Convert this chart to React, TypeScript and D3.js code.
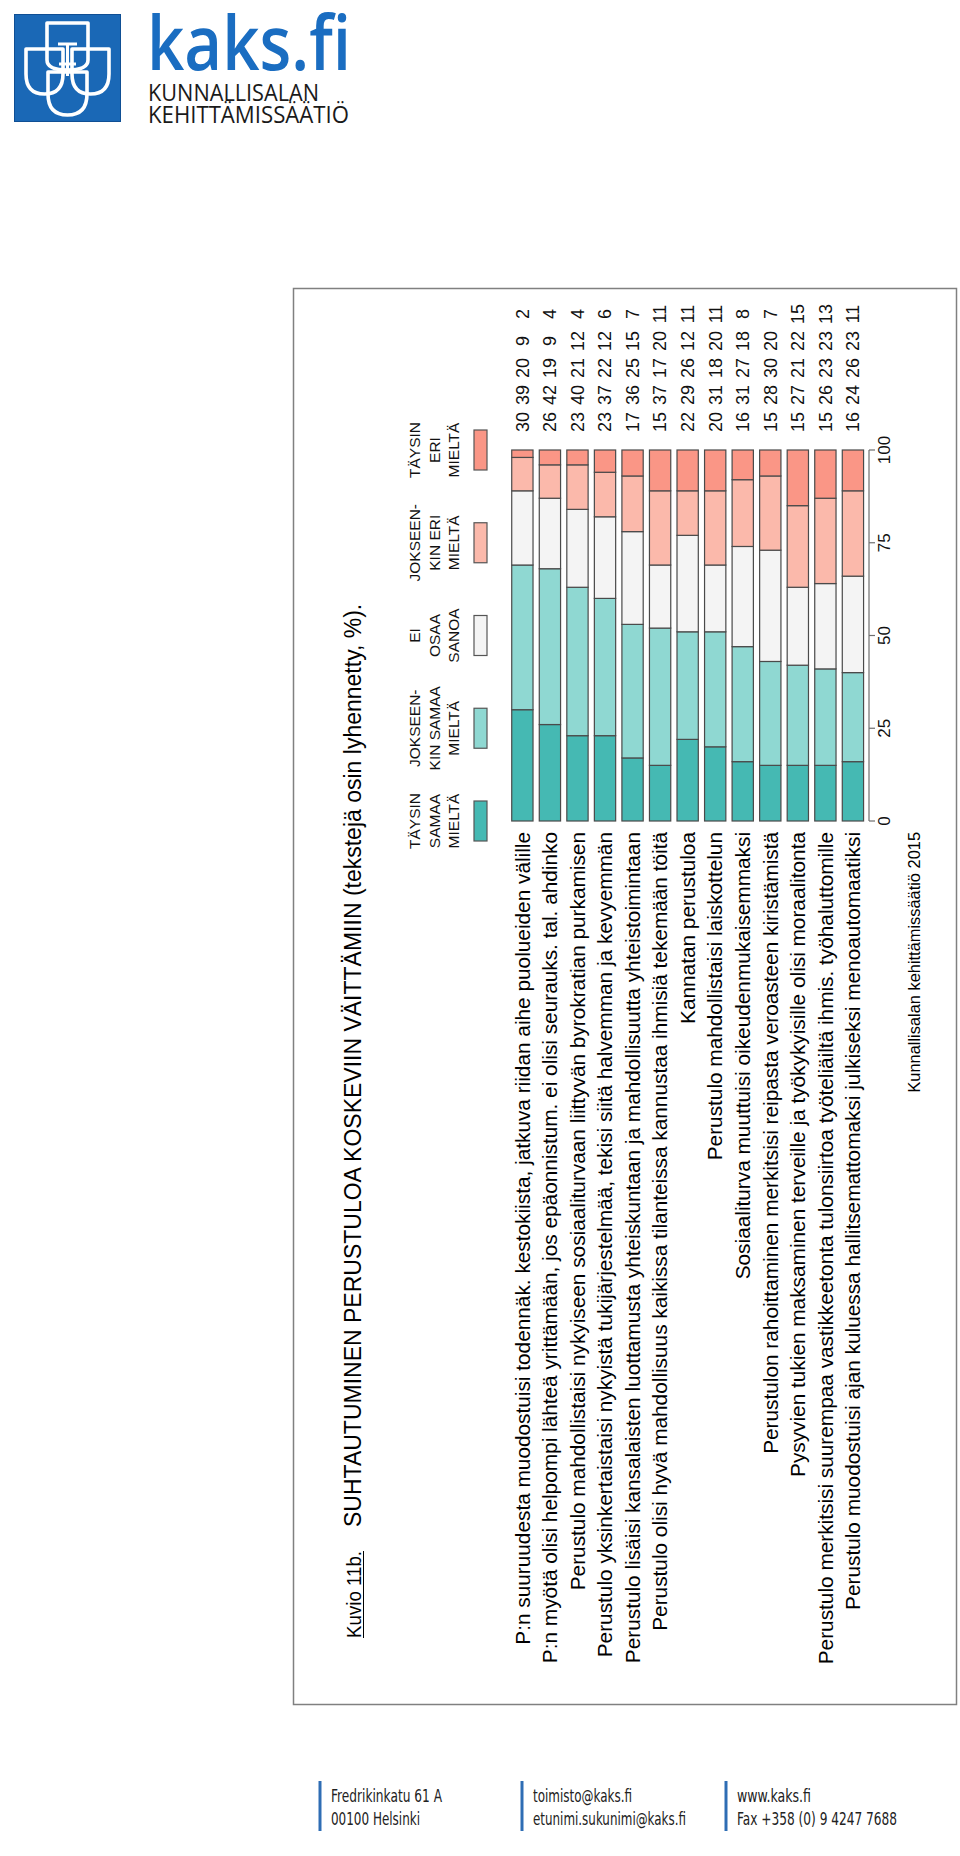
import React from 'react';
import * as d3 from 'd3';

const categories = [
  'P:n suuruudesta muodostuisi todennäk. kestokiista, jatkuva riidan aihe puolueiden välille',
  'P:n myötä olisi helpompi lähteä yrittämään, jos epäonnistum. ei olisi seurauks. tal. ahdinko',
  'Perustulo mahdollistaisi nykyiseen sosiaaliturvaan liittyvän byrokratian purkamisen',
  'Perustulo yksinkertaistaisi nykyistä tukijärjestelmää, tekisi siitä halvemman ja kevyemmän',
  'Perustulo lisäisi kansalaisten luottamusta yhteiskuntaan ja mahdollisuutta yhteistoimintaan',
  'Perustulo olisi hyvä mahdollisuus kaikissa tilanteissa kannustaa ihmisiä tekemään töitä',
  'Kannatan perustuloa',
  'Perustulo mahdollistaisi laiskottelun',
  'Sosiaaliturva muuttuisi oikeudenmukaisemmaksi',
  'Perustulon rahoittaminen merkitsisi reipasta veroasteen kiristämistä',
  'Pysyvien tukien maksaminen terveille ja työkykyisille olisi moraalitonta',
  'Perustulo merkitsisi suurempaa vastikkeetonta tulonsiirtoa työteliäiltä ihmis. työhaluttomille',
  'Perustulo muodostuisi ajan kuluessa hallitsemattomaksi julkiseksi menoautomaatiksi',
];

const seriesKeys = ['taysinSamaa', 'jokseenkinSamaa', 'eiOsaa', 'jokseenkinEri', 'taysinEri'];
const legendLines = [
  ['TÄYSIN', 'SAMAA', 'MIELTÄ'],
  ['JOKSEEN-', 'KIN SAMAA', 'MIELTÄ'],
  ['EI', 'OSAA', 'SANOA'],
  ['JOKSEEN-', 'KIN ERI', 'MIELTÄ'],
  ['TÄYSIN', 'ERI', 'MIELTÄ'],
];

const taysinSamaa = [30, 26, 23, 23, 17, 15, 22, 20, 16, 15, 15, 15, 16];
const jokseenkinSamaa = [39, 42, 40, 37, 36, 37, 29, 31, 31, 28, 27, 26, 24];
const eiOsaa = [20, 19, 21, 22, 25, 17, 26, 18, 27, 30, 21, 23, 26];
const jokseenkinEri = [9, 9, 12, 12, 15, 20, 12, 20, 18, 20, 22, 23, 23];
const taysinEri = [2, 4, 4, 6, 7, 11, 11, 11, 8, 7, 15, 13, 11];

const tickValues = [0, 25, 50, 75, 100];
const colors = ['#45b9b3', '#8fd8d2', '#f4f4f4', '#fbb9ab', '#fa9686'];

const titleLabel = 'Kuvio 11b.';
const titleText = 'SUHTAUTUMINEN PERUSTULOA KOSKEVIIN VÄITTÄMIIN (tekstejä osin lyhennetty, %).';
const creditText = 'Kunnallisalan kehittämissäätiö 2015';
const footerBlocks = [
  ['Fredrikinkatu 61 A', '00100 Helsinki'],
  ['toimisto@kaks.fi', 'etunimi.sukunimi@kaks.fi'],
  ['www.kaks.fi', 'Fax +358 (0) 9 4247 7688'],
];
const footerWidths = [
  [111, 89],
  [99, 153],
  [74, 160],
];

const FONT = '"Liberation Sans", Arial, Helvetica, sans-serif';

export default function App() {
  const W = 960;
  const H = 1856;
  const seriesArrays = [taysinSamaa, jokseenkinSamaa, eiOsaa, jokseenkinEri, taysinEri];
  const rows = categories.map((c, i) => {
    const o: any = { cat: i };
    seriesKeys.forEach((k, j) => (o[k] = seriesArrays[j][i]));
    return o;
  });
  const stacked = d3.stack().keys(seriesKeys)(rows);

  const x = d3
    .scaleBand<number>()
    .domain(categories.map((_, i) => i))
    .range([508.6, 866.7])
    .paddingInner(0.227)
    .paddingOuter(0.1135);
  const y = d3.scaleLinear().domain([0, 100]).range([821, 450]);
  const valCol = d3.scalePoint<number>().domain([0, 1, 2, 3, 4]).range([422, 314]);

  const bw = x.bandwidth();
  const axisX = 869;
  const labelEndY = y(0) + 11;

  const rot = (px: number, py: number) => `translate(${px},${py}) rotate(-90)`;

  const shield = (x0: number, x1: number, y0: number, y1: number, yb: number) => {
    const mx = (x0 + x1) / 2;
    return `M${x0},${y0} H${x1} V${y1} Q${x1},${yb} ${mx},${yb} Q${x0},${yb} ${x0},${y1} Z`;
  };

  return (
    <svg
      width={W}
      height={H}
      viewBox={`0 0 ${W} ${H}`}
      style={{ position: 'absolute', left: 0, top: 0, display: 'block', background: '#fff' }}
      fontFamily={FONT}
    >
      <rect x={0} y={0} width={W} height={H} fill="#ffffff" />

      {/* Logo */}
      <g transform="translate(14,14)">
        <rect x={0} y={0} width={107} height={108} fill="#1a68b6" />
        <rect x={0.5} y={0.5} width={106} height={107} fill="none" stroke="#0f4f94" strokeWidth={1} />
        <g fill="none" stroke="#ffffff" strokeWidth={3.6} strokeLinejoin="round">
          <path d={shield(33, 74, 9, 46, 56)} />
          <path d={shield(12, 49, 35, 60, 80)} />
          <path d={shield(58, 95, 35, 60, 80)} />
          <path d={shield(34, 73, 58, 80, 101)} />
          <path d="M44,30 H63 M53.5,30 V62 M45,50 L62,50" strokeWidth={3} />
        </g>
      </g>
      <text x={147} y={70} fontFamily='"Open Sans", "Noto Sans", sans-serif' fontWeight={600} fontSize={76} fill="#1a6dc1" textLength={204} lengthAdjust="spacingAndGlyphs">
        kaks.fi
      </text>
      <text x={148} y={101} fontFamily='"Open Sans", "Noto Sans", sans-serif' fontSize={23} fill="#1a1a1a" textLength={171} lengthAdjust="spacingAndGlyphs">
        KUNNALLISALAN
      </text>
      <text x={148} y={122.5} fontFamily='"Open Sans", "Noto Sans", sans-serif' fontSize={23} fill="#1a1a1a" textLength={201} lengthAdjust="spacingAndGlyphs">
        KEHITTÄMISSÄÄTIÖ
      </text>

      {/* Frame */}
      <rect x={293.5} y={288.5} width={663} height={1416} fill="none" stroke="#808080" strokeWidth={1.5} />

      {/* Title */}
      <g fill="#000">
        <text transform={rot(361, 1638)} fontSize={21} textAnchor="start" textLength={87} lengthAdjust="spacingAndGlyphs">
          {titleLabel}
        </text>
        <line x1={363.5} x2={363.5} y1={1638} y2={1551} stroke="#000" strokeWidth={1} />
        <text transform={rot(361, 1527)} fontSize={23} textAnchor="start">
          {titleText}
        </text>
      </g>

      {/* Legend */}
      {legendLines.map((lines, j) => {
        const cy = y(tickValues[j]);
        return (
          <g key={'lg' + j}>
            {lines.map((ln, k) => (
              <text key={k} transform={rot(420 + k * 19.5, cy)} fontSize={15.5} textAnchor="middle" fill="#111">
                {ln}
              </text>
            ))}
            <rect x={474} y={cy - 20} width={13} height={40} fill={colors[j]} stroke="#555" strokeWidth={1.2} />
          </g>
        );
      })}

      {/* Bars */}
      {stacked.map((s, j) => (
        <g key={'s' + j} fill={colors[j]} stroke="#4a4a4a" strokeWidth={1.2}>
          {s.map((d, i) => (
            <rect key={i} x={x(i)!} width={bw} y={y(d[1])} height={y(d[0]) - y(d[1])} />
          ))}
        </g>
      ))}

      {/* Value labels */}
      {categories.map((_, i) =>
        seriesArrays.map((arr, j) => (
          <text
            key={`v${i}-${j}`}
            transform={rot(x(i)! + bw / 2, valCol(j)!)}
            dy="0.35em"
            fontSize={18}
            textAnchor="middle"
            fill="#111"
          >
            {arr[i]}
          </text>
        ))
      )}

      {/* Axis */}
      <g stroke="#6e6e6e" strokeWidth={1.2}>
        <line x1={axisX} x2={axisX} y1={y(0)} y2={y(100)} />
        {tickValues.map((t) => (
          <line key={t} x1={axisX} x2={axisX + 6} y1={y(t)} y2={y(t)} />
        ))}
      </g>
      {tickValues.map((t) => (
        <text key={'t' + t} transform={rot(axisX + 15, y(t))} dy="0.35em" fontSize={17} textAnchor="middle" fill="#111">
          {t}
        </text>
      ))}

      {/* Category labels */}
      {categories.map((c, i) => (
        <text key={'c' + i} transform={rot(x(i)! + bw / 2, labelEndY)} dy="0.35em" fontSize={20.8} textAnchor="end" fill="#000">
          {c}
        </text>
      ))}

      {/* Credit */}
      <text transform={rot(920, labelEndY)} fontSize={16.4} textAnchor="end" fill="#000">
        {creditText}
      </text>

      {/* Footer */}
      {footerBlocks.map((blk, b) => {
        const bx = [320, 522, 726][b];
        return (
          <g key={'f' + b}>
            <line x1={bx} x2={bx} y1={1781} y2={1831} stroke="#2e6db4" strokeWidth={3} />
            {blk.map((ln, k) => (
              <text
                key={k}
                x={bx + 11}
                y={1802 + k * 23}
                fontSize={18}
                fontFamily='"Liberation Sans Narrow", "DejaVu Sans Condensed", "Open Sans", sans-serif'
                fill="#222"
                textLength={footerWidths[b][k]}
                lengthAdjust="spacingAndGlyphs"
              >
                {ln}
              </text>
            ))}
          </g>
        );
      })}
    </svg>
  );
}
